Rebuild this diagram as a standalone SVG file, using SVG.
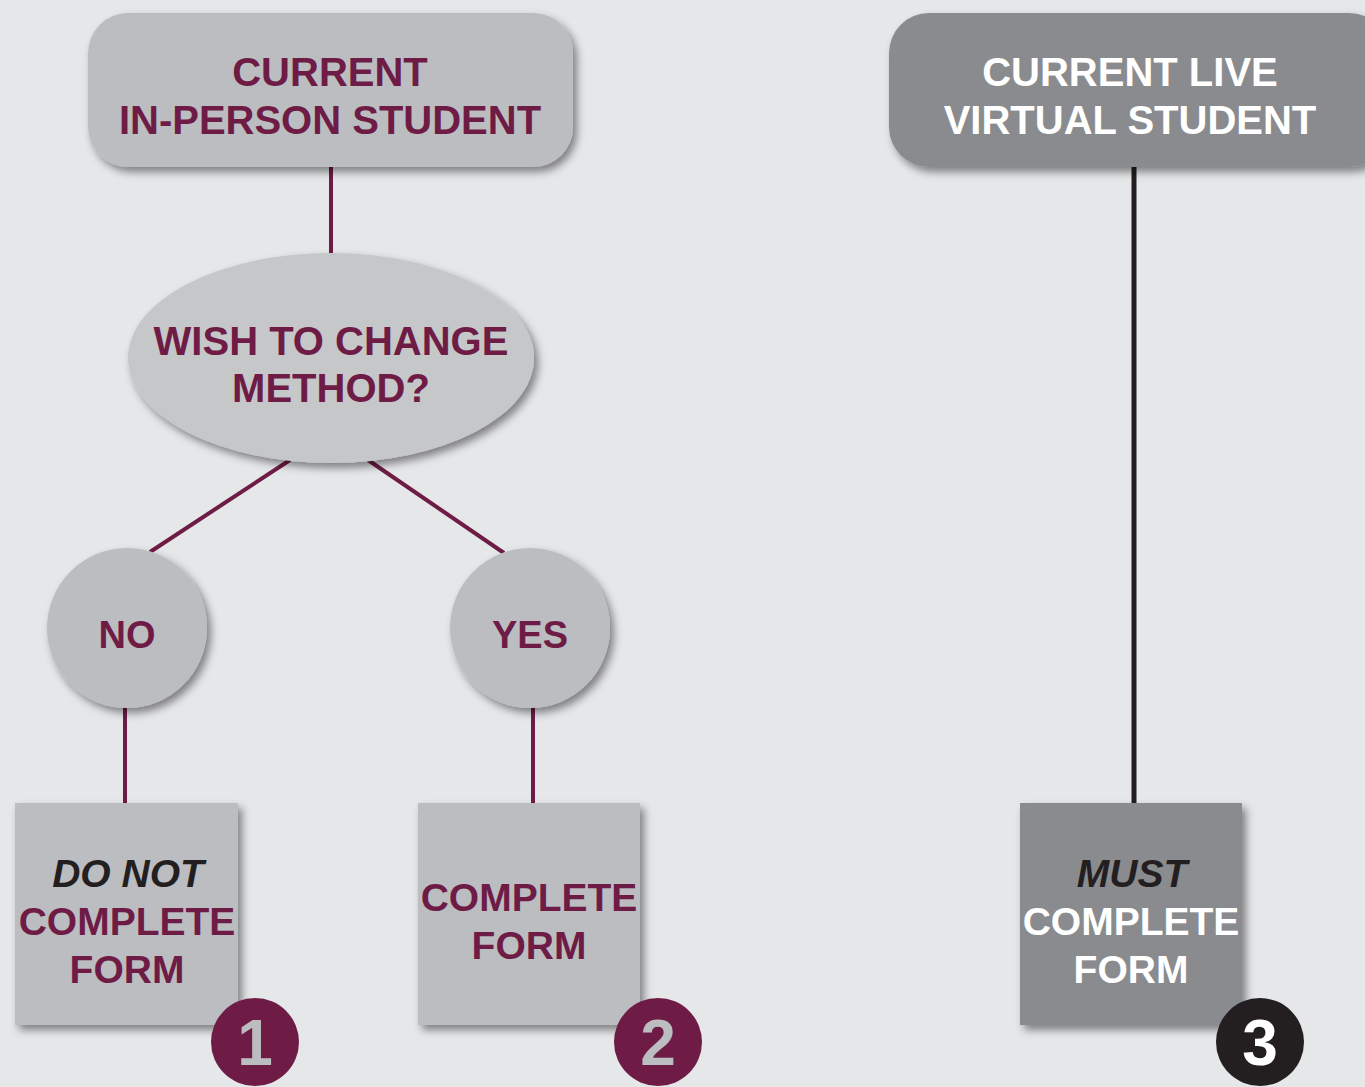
<svg xmlns="http://www.w3.org/2000/svg" width="1365" height="1087" viewBox="0 0 1365 1087">
<defs>
<filter id="sh" x="-20%" y="-20%" width="140%" height="140%">
<feDropShadow dx="4" dy="5" stdDeviation="4" flood-color="#000" flood-opacity="0.45"/>
</filter>
<style>
.t{font-family:"Liberation Sans",Arial,sans-serif;font-weight:bold;text-anchor:middle}
.m{fill:#6e1c46}
.w{fill:#ffffff}
.k{fill:#231f20}
.i{font-style:italic}
.lf{fill:#bcbdc0}
.df{fill:#8a8b8e}
.cm{stroke:#6e1c46;stroke-width:4;fill:none}
.ck{stroke:#231f20;stroke-width:5;fill:none}
</style>
</defs>
<rect width="1365" height="1087" fill="#e6e7e9"/>
<g id="connectors">
<line class="cm" x1="331" y1="165" x2="331" y2="256"/>
<line class="cm" x1="290" y1="460" x2="150" y2="552"/>
<line class="cm" x1="368" y1="460" x2="504" y2="553"/>
<line class="cm" x1="125" y1="705" x2="125" y2="805"/>
<line class="cm" x1="533" y1="705" x2="533" y2="805"/>
<line class="ck" x1="1134" y1="165" x2="1134" y2="805"/>
</g>
<g id="inperson">
<rect class="lf" x="88" y="13" width="485" height="154" rx="40" filter="url(#sh)"/>
<text class="t m" font-size="40" x="330" y="86">CURRENT</text>
<text class="t m" font-size="40" x="330" y="134">IN-PERSON STUDENT</text>
</g>
<g id="virtual">
<rect class="df" x="889" y="13" width="500" height="154" rx="40" filter="url(#sh)"/>
<text class="t w" font-size="40" x="1130" y="86">CURRENT LIVE</text>
<text class="t w" font-size="40" x="1130" y="134">VIRTUAL STUDENT</text>
</g>
<g id="question">
<ellipse cx="331" cy="358" rx="203" ry="105" fill="#c6c7c9" filter="url(#sh)"/>
<text class="t m" font-size="40" x="331" y="355">WISH TO CHANGE</text>
<text class="t m" font-size="40" x="331" y="402">METHOD?</text>
</g>
<g id="no">
<circle class="lf" cx="127" cy="628" r="80" filter="url(#sh)"/>
<text class="t m" font-size="38" x="127" y="648">NO</text>
</g>
<g id="yes">
<circle class="lf" cx="530" cy="628" r="80" filter="url(#sh)"/>
<text class="t m" font-size="38" x="530" y="648">YES</text>
</g>
<g id="box1">
<rect class="lf" x="15" y="803" width="223" height="222" filter="url(#sh)"/>
<text class="t k i" font-size="39" x="128" y="887">DO NOT</text>
<text class="t m" font-size="39" x="127" y="935">COMPLETE</text>
<text class="t m" font-size="39" x="127" y="983">FORM</text>
</g>
<g id="box2">
<rect class="lf" x="418" y="803" width="222" height="222" filter="url(#sh)"/>
<text class="t m" font-size="39" x="529" y="911">COMPLETE</text>
<text class="t m" font-size="39" x="529" y="959">FORM</text>
</g>
<g id="box3">
<rect class="df" x="1020" y="803" width="222" height="222" filter="url(#sh)"/>
<text class="t k i" font-size="39" x="1132" y="887">MUST</text>
<text class="t w" font-size="39" x="1131" y="935">COMPLETE</text>
<text class="t w" font-size="39" x="1131" y="983">FORM</text>
</g>
<g id="num1">
<circle class="m" cx="255" cy="1042" r="44"/>
<text class="t lf" font-size="64" x="255" y="1065">1</text>
</g>
<g id="num2">
<circle class="m" cx="658" cy="1042" r="44"/>
<text class="t lf" font-size="64" x="658" y="1065">2</text>
</g>
<g id="num3">
<circle class="k" cx="1260" cy="1042" r="44"/>
<text class="t w" font-size="64" x="1260" y="1065">3</text>
</g>
</svg>
